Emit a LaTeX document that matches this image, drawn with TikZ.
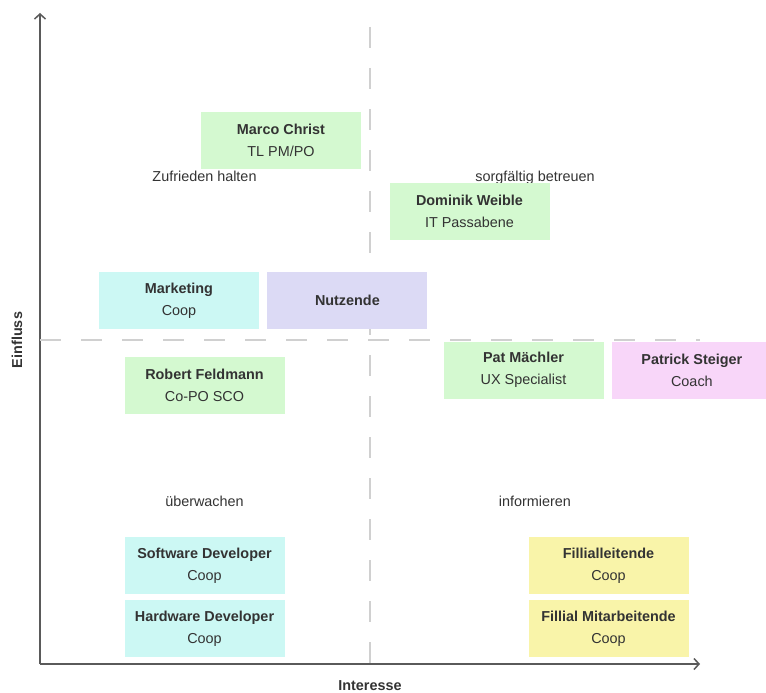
\documentclass[tikz,border=0pt]{standalone}
\usepackage{fontspec}
\setmainfont{Liberation Sans}
\usepackage{tikz}
\usetikzlibrary{arrows.meta, shapes, positioning, calc}

\definecolor{txtgray}{HTML}{333333}
\definecolor{axisgray}{HTML}{5A5A5A}
\definecolor{dashgray}{HTML}{D0D0D0}
\definecolor{boxgreen}{HTML}{D4F9D0}
\definecolor{boxcyan}{HTML}{CCF8F4}
\definecolor{boxlilac}{HTML}{DCDAF5}
\definecolor{boxpink}{HTML}{F8D6F9}
\definecolor{boxyellow}{HTML}{F9F4A9}

\begin{document}
\begin{tikzpicture}
        [x=1pt, y=-1pt, >={Straight Barb[length=5pt,width=11pt]}, node distance=6pt,
        every node/.style={text=txtgray, font=\fontsize{14.4}{22}\selectfont},
        stakeholder/.style={rectangle, minimum width=160pt, minimum height=57pt, inner sep=0pt, align=center},
        quadlabel/.style={inner sep=0pt, text height=10pt, text depth=3pt},
        axis/.style={draw=axisgray, line width=1.5pt},
        divider/.style={draw=dashgray, line width=1.5pt, dash pattern=on 21pt off 20pt}]
        \useasboundingbox (0,0) rectangle (766,693);

        % axes
        \coordinate (origin) at (40,664);
        \coordinate (ytop)   at (40,13);
        \coordinate (xend)   at (700,664);
        \path[axis, ->] (origin) -- (ytop);
        \path[axis, ->] (origin) -- (xend);

        % quadrant dividers
        \coordinate (vtop)   at (370,27);
        \coordinate (vbot)   at (370,664);
        \coordinate (hleft)  at (40,340);
        \coordinate (hright) at (700,340);
        \path[divider] (vtop) -- (vbot);
        \path[divider] (hleft) -- (hright);

        \node[font=\fontsize{14.4}{17}\selectfont\bfseries, rotate=90]  (yl)  at (17,340)  {Einfluss};
        \node[font=\fontsize{14.4}{17}\selectfont\bfseries]             (xl)  at (370,686) {Interesse};

        \node[quadlabel]  (q1)  at (204.5,178)  {Zufrieden halten};
        \node[quadlabel]  (q2)  at (535,178)    {sorgfältig betreuen};
        \node[quadlabel]  (q3)  at (204.5,503)  {überwachen};
        \node[quadlabel]  (q4)  at (535,503)    {informieren};

        \node[stakeholder, fill=boxgreen]  (marco)  at (281,140.5)
        {\textbf{Marco Christ}\\ TL PM/PO};

        \node[stakeholder, fill=boxgreen]  (dominik)  at (469.5,211.5)
        {\textbf{Dominik Weible}\\ IT Passabene};

        \node[stakeholder, fill=boxcyan]  (marketing)  at (179,300.5)
        {\textbf{Marketing}\\ Coop};

        \node[stakeholder, fill=boxlilac]  (nutzende)  [right = 8pt of marketing]
        {\textbf{Nutzende}};

        \node[stakeholder, fill=boxgreen]  (robert)  at (204.5,385.5)
        {\textbf{Robert Feldmann}\\ Co-PO SCO};

        \node[stakeholder, fill=boxgreen]  (pat)  at (523.5,370)
        {\textbf{Pat Mächler}\\ UX Specialist};

        \node[stakeholder, fill=boxpink]  (patrick)  [right = 8pt of pat]
        {\textbf{Patrick Steiger}\\ Coach};

        \node[stakeholder, fill=boxcyan]  (software)  at (204.5,565.5)
        {\textbf{Software Developer}\\ Coop};

        \node[stakeholder, fill=boxcyan]  (hardware)  [below = of software]
        {\textbf{Hardware Developer}\\ Coop};

        \node[stakeholder, fill=boxyellow]  (leitende)  at (608.5,565.5)
        {\textbf{Fillialleitende}\\ Coop};

        \node[stakeholder, fill=boxyellow]  (mitarbeitende)  [below = of leitende]
        {\textbf{Fillial Mitarbeitende}\\ Coop};
\end{tikzpicture}
\end{document}
